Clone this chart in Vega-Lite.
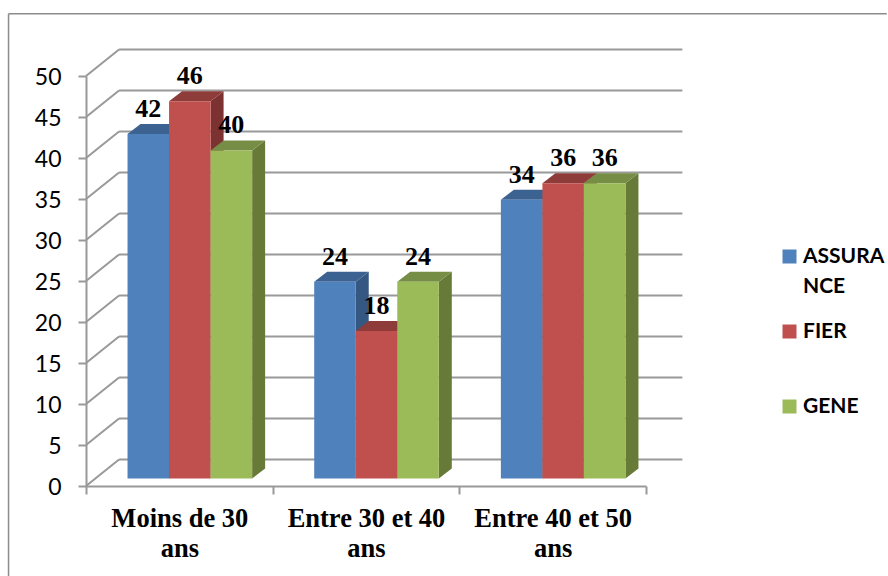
{
  "$schema": "https://vega.github.io/schema/vega-lite/v6.json",
  "width": 560,
  "height": 410,
  "autosize": "none",
  "padding": {"left": 86, "top": 76, "right": 242, "bottom": 90},
  "background": "white",
  "view": {"stroke": null},
  "config": {"font": "Lato", "style": {"guide-label": {"lineHeight": 30}}},
  "datasets": {
    "answers": [
      {"age": "Moins de 30 ans", "feeling": "ASSURANCE", "count": 42},
      {"age": "Moins de 30 ans", "feeling": "FIER", "count": 46},
      {"age": "Moins de 30 ans", "feeling": "GENE", "count": 40},
      {"age": "Entre 30 et 40 ans", "feeling": "ASSURANCE", "count": 24},
      {"age": "Entre 30 et 40 ans", "feeling": "FIER", "count": 18},
      {"age": "Entre 30 et 40 ans", "feeling": "GENE", "count": 24},
      {"age": "Entre 40 et 50 ans", "feeling": "ASSURANCE", "count": 34},
      {"age": "Entre 40 et 50 ans", "feeling": "FIER", "count": 36},
      {"age": "Entre 40 et 50 ans", "feeling": "GENE", "count": 36}
    ],
    "levels": [
      {"level": 0}, {"level": 5}, {"level": 10}, {"level": 15}, {"level": 20}, {"level": 25},
      {"level": 30}, {"level": 35}, {"level": 40}, {"level": 45}, {"level": 50}
    ],
    "frame": [
      {"fromX": -0.415, "toX": -0.415, "fromY": 57.6, "toY": -11},
      {"fromX": -0.415, "toX": 4.29, "fromY": 57.6, "toY": 57.6}
    ]
  },
  "layer": [
    {
      "description": "Back wall gridlines",
      "data": {"name": "levels"},
      "transform": [{"calculate": "datum.level + 3.23", "as": "back"}],
      "mark": {"type": "rule", "color": "#999999", "strokeWidth": 2},
      "encoding": {
        "x": {"datum": 0.177, "type": "quantitative"},
        "x2": {"datum": 3.195},
        "y": {"field": "back", "type": "quantitative"}
      }
    },
    {
      "description": "Side wall gridlines running from the axis to the back wall",
      "data": {"name": "levels"},
      "transform": [{"calculate": "datum.level + 3.23", "as": "back"}],
      "mark": {"type": "rule", "color": "#999999", "strokeWidth": 2},
      "encoding": {
        "x": {"datum": 0, "type": "quantitative"},
        "x2": {"datum": 0.177},
        "y": {"field": "level", "type": "quantitative"},
        "y2": {"field": "back"}
      }
    },
    {
      "description": "Right edge of the floor",
      "mark": {"type": "rule", "color": "#999999", "strokeWidth": 2},
      "encoding": {
        "x": {"datum": 3, "type": "quantitative"},
        "x2": {"datum": 3.195},
        "y": {"datum": 0, "type": "quantitative"},
        "y2": {"datum": 3.23}
      }
    },
    {
      "description": "Outer frame of the chart area: left and top edges",
      "data": {"name": "frame"},
      "mark": {"type": "rule", "color": "#8c8c8c", "strokeWidth": 1.5},
      "encoding": {
        "x": {"field": "fromX", "type": "quantitative"},
        "x2": {"field": "toX"},
        "y": {"field": "fromY", "type": "quantitative"},
        "y2": {"field": "toY"}
      }
    },
    {
      "description": "Right-hand faces of the bars",
      "data": {"name": "answers"},
      "transform": [
        {"calculate": "indexof(['Moins de 30 ans','Entre 30 et 40 ans','Entre 40 et 50 ans'], datum.age) + 0.2225 + indexof(['ASSURANCE','FIER','GENE'], datum.feeling) * 0.2225", "as": "left"},
        {"calculate": "datum.age + datum.feeling", "as": "bar"},
        {"calculate": "[0, 1]", "as": "corner"},
        {"flatten": ["corner"]},
        {"calculate": "datum.left + 0.2225 + datum.corner * 0.0696", "as": "px"},
        {"calculate": "datum.count + 0.915 + datum.corner * 1.22", "as": "upper"},
        {"calculate": "0.915 + datum.corner * 1.22", "as": "lower"}
      ],
      "mark": {"type": "area", "interpolate": "linear"},
      "encoding": {
        "x": {"field": "px", "type": "quantitative"},
        "y": {"field": "upper", "type": "quantitative"},
        "y2": {"field": "lower"},
        "detail": {"field": "bar"},
        "color": {
          "field": "feeling",
          "type": "nominal",
          "legend": null,
          "scale": {"domain": ["ASSURANCE", "FIER", "GENE"], "range": ["#345882", "#7d3232", "#687a38"]}
        }
      }
    },
    {
      "description": "Top faces of the bars",
      "data": {"name": "answers"},
      "transform": [
        {"calculate": "indexof(['Moins de 30 ans','Entre 30 et 40 ans','Entre 40 et 50 ans'], datum.age) + 0.2225 + indexof(['ASSURANCE','FIER','GENE'], datum.feeling) * 0.2225", "as": "left"},
        {"calculate": "datum.age + datum.feeling", "as": "bar"},
        {"calculate": "[0, 1, 2, 3]", "as": "corner"},
        {"flatten": ["corner"]},
        {"calculate": "datum.left + (datum.corner % 2) * 0.0696 + (datum.corner >= 2 ? 0.2225 : 0)", "as": "px"},
        {"calculate": "datum.count + 0.915 + (datum.corner >= 1 ? 1.22 : 0)", "as": "upper"},
        {"calculate": "datum.count + 0.915 + (datum.corner == 3 ? 1.22 : 0)", "as": "lower"}
      ],
      "mark": {"type": "area", "interpolate": "linear"},
      "encoding": {
        "x": {"field": "px", "type": "quantitative"},
        "y": {"field": "upper", "type": "quantitative"},
        "y2": {"field": "lower"},
        "detail": {"field": "bar"},
        "color": {
          "field": "feeling",
          "type": "nominal",
          "legend": null,
          "scale": {"domain": ["ASSURANCE", "FIER", "GENE"], "range": ["#3c6291", "#8e3c3a", "#768d46"]}
        }
      }
    },
    {
      "description": "Front faces of the bars, with the axes and the legend",
      "data": {"name": "answers"},
      "transform": [
        {"calculate": "indexof(['Moins de 30 ans','Entre 30 et 40 ans','Entre 40 et 50 ans'], datum.age) + 0.2225 + indexof(['ASSURANCE','FIER','GENE'], datum.feeling) * 0.2225", "as": "left"},
        {"calculate": "datum.left + 0.2225", "as": "right"},
        {"calculate": "datum.count + 0.915", "as": "upper"},
        {"calculate": "0.915", "as": "lower"}
      ],
      "mark": {"type": "rect"},
      "encoding": {
        "x": {
          "field": "left",
          "type": "quantitative",
          "title": null,
          "scale": {"domain": [0, 3], "nice": false, "zero": false},
          "axis": {
            "values": [0, 0.5, 1, 1.5, 2, 2.5, 3],
            "grid": false,
            "domainColor": "#999999",
            "domainWidth": 2,
            "tickColor": "#999999",
            "tickWidth": 2,
            "tickSize": 8,
            "tickOpacity": {"condition": {"test": "datum.value % 1 != 0", "value": 0}, "value": 1},
            "labelExpr": "datum.value == 0.5 ? ['Moins de 30', 'ans'] : datum.value == 1.5 ? ['Entre 30 et 40', 'ans'] : datum.value == 2.5 ? ['Entre 40 et 50', 'ans'] : ''",
            "labelFont": "Liberation Serif",
            "labelFontWeight": "bold",
            "labelFontSize": 26.5,
            "labelColor": "black",
            "labelLineHeight": 30,
            "labelPadding": 11,
            "labelOverlap": false,
            "labelFlush": false,
            "labelBound": false,
            "labelAngle": 0,
            "labelBaseline": "top"
          }
        },
        "x2": {"field": "right"},
        "y": {
          "field": "upper",
          "type": "quantitative",
          "title": null,
          "scale": {"domain": [0, 50], "nice": false},
          "axis": {
            "values": [0, 5, 10, 15, 20, 25, 30, 35, 40, 45, 50],
            "grid": false,
            "domainColor": "#999999",
            "domainWidth": 2,
            "tickColor": "#999999",
            "tickWidth": 2,
            "tickSize": 8,
            "labelFont": "Lato",
            "labelFontSize": 23,
            "labelColor": "black",
            "labelPadding": 17,
            "labelOffset": 1.5,
            "labelOverlap": false,
            "labelBound": false,
            "labelFlush": false
          }
        },
        "y2": {"field": "lower"},
        "color": {
          "field": "feeling",
          "type": "nominal",
          "title": null,
          "scale": {"domain": ["ASSURANCE", "FIER", "GENE"], "range": ["#4f81bd", "#c0504d", "#9bbb59"]},
          "legend": {
            "orient": "none",
            "legendX": 693,
            "legendY": 170,
            "symbolType": "square",
            "symbolSize": 196,
            "symbolStrokeWidth": 0,
            "labelFont": "Lato",
            "labelFontWeight": "bold",
            "labelFontSize": 21,
            "labelColor": "black",
            "labelLimit": 200,
            "labelOffset": 3,
            "rowPadding": 23,
            "labelExpr": "datum.label == 'ASSURANCE' ? ['ASSURA', 'NCE'] : [datum.label, ' ']",
            "encoding": {"labels": {"update": {"baseline": {"value": "top"}, "dy": {"value": -10}}}}
          }
        }
      }
    },
    {
      "description": "Value labels above the bars",
      "data": {"name": "answers"},
      "transform": [
        {"calculate": "indexof(['Moins de 30 ans','Entre 30 et 40 ans','Entre 40 et 50 ans'], datum.age) + 0.2225 + indexof(['ASSURANCE','FIER','GENE'], datum.feeling) * 0.2225 + 0.11125", "as": "middle"},
        {"calculate": "datum.count + 0.915", "as": "upper"}
      ],
      "mark": {"type": "text", "font": "Liberation Serif", "fontWeight": "bold", "fontSize": 26, "baseline": "alphabetic", "dy": -17, "color": "black"},
      "encoding": {
        "x": {"field": "middle", "type": "quantitative"},
        "y": {"field": "upper", "type": "quantitative"},
        "text": {"field": "count", "type": "quantitative"}
      }
    }
  ],
  "resolve": {"scale": {"color": "independent"}}
}
